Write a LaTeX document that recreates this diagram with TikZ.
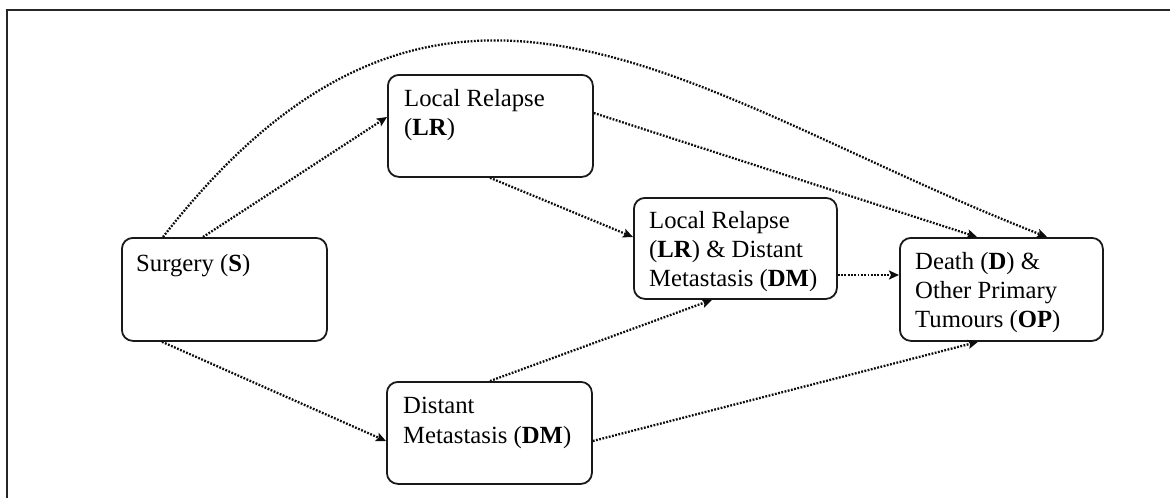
\documentclass[tikz,border=0pt]{standalone}
\usepackage{fontspec}
\setmainfont{Liberation Serif}
\usetikzlibrary{arrows.meta}
\begin{document}
\begin{tikzpicture}[x=1pt,y=-1pt,
  box/.style={draw=black!90, line width=1.8pt, rounded corners=11pt, anchor=north west, inner sep=0pt},
  txt/.style={anchor=north west, inner sep=0pt, align=left, font=\fontsize{24.7}{29}\selectfont},
  conn/.style={line width=2.3pt, dash pattern=on 1.8pt off 1.5pt, draw=black!95,
    -{Stealth[length=10pt,width=9pt,inset=2pt]}},
  frame/.style={draw=black!85, line width=1.3pt}]
\useasboundingbox (0,0) rectangle (1170,498);
% frame (partly visible)
\coordinate (f1) at (7,498);
\coordinate (f2) at (7,10);
\coordinate (f3) at (1170,10);
\draw[frame] (f1) -- (f2) -- (f3);
% boxes
\node[box, minimum width=205pt, minimum height=103pt] (S) at (121,237) {};
\node[box, minimum width=205pt, minimum height=102pt] (LR) at (387,74) {};
\node[box, minimum width=203pt, minimum height=101pt] (LRDM) at (633,197) {};
\node[box, minimum width=203pt, minimum height=103pt] (D) at (899,237) {};
\node[box, minimum width=205pt, minimum height=102pt] (DM) at (386,381) {};
% texts
\node[txt] (tS) at ([xshift=15pt,yshift=-13.7pt]S.north west) {\strut Surgery (\textbf{S})};
\node[txt] (tLR) at ([xshift=17pt,yshift=-11.7pt]LR.north west) {\strut Local Relapse\\(\textbf{LR})};
\node[txt] (tLRDM) at ([xshift=16pt,yshift=-10.7pt]LRDM.north west) {\strut Local Relapse\\(\textbf{LR}) \& Distant\\Metastasis (\textbf{DM})};
\node[txt] (tD) at ([xshift=16pt,yshift=-11.7pt]D.north west) {\strut Death (\textbf{D}) \&\\Other Primary\\Tumours (\textbf{OP})};
\node[txt, font=\fontsize{24.7}{30}\selectfont] (tDM) at ([xshift=17pt,yshift=-11pt]DM.north west) {\strut Distant\\Metastasis (\textbf{DM})};
% connectors
\draw[conn] ([xshift=82pt]S.north west) -- ([yshift=-43pt]LR.north west);
\draw[conn] ([xshift=42pt]S.north west) .. controls (445,-125) and (690,98) .. ([xshift=148pt]D.north west);
\draw[conn] ([yshift=-39pt]LR.north east) -- ([xshift=78pt]D.north west);
\draw[conn] ([xshift=103pt]LR.south west) -- ([yshift=-40pt]LRDM.north west);
\draw[conn] ([yshift=-78pt]LRDM.north east) -- ([yshift=-38pt]D.north west);
\draw[conn] ([xshift=41pt]S.south west) -- ([yshift=-60pt]DM.north west);
\draw[conn] ([xshift=104pt]DM.north west) -- ([xshift=79pt]LRDM.south west);
\draw[conn] ([yshift=-60pt]DM.north east) -- ([xshift=79pt]D.south west);
\end{tikzpicture}
\end{document}
